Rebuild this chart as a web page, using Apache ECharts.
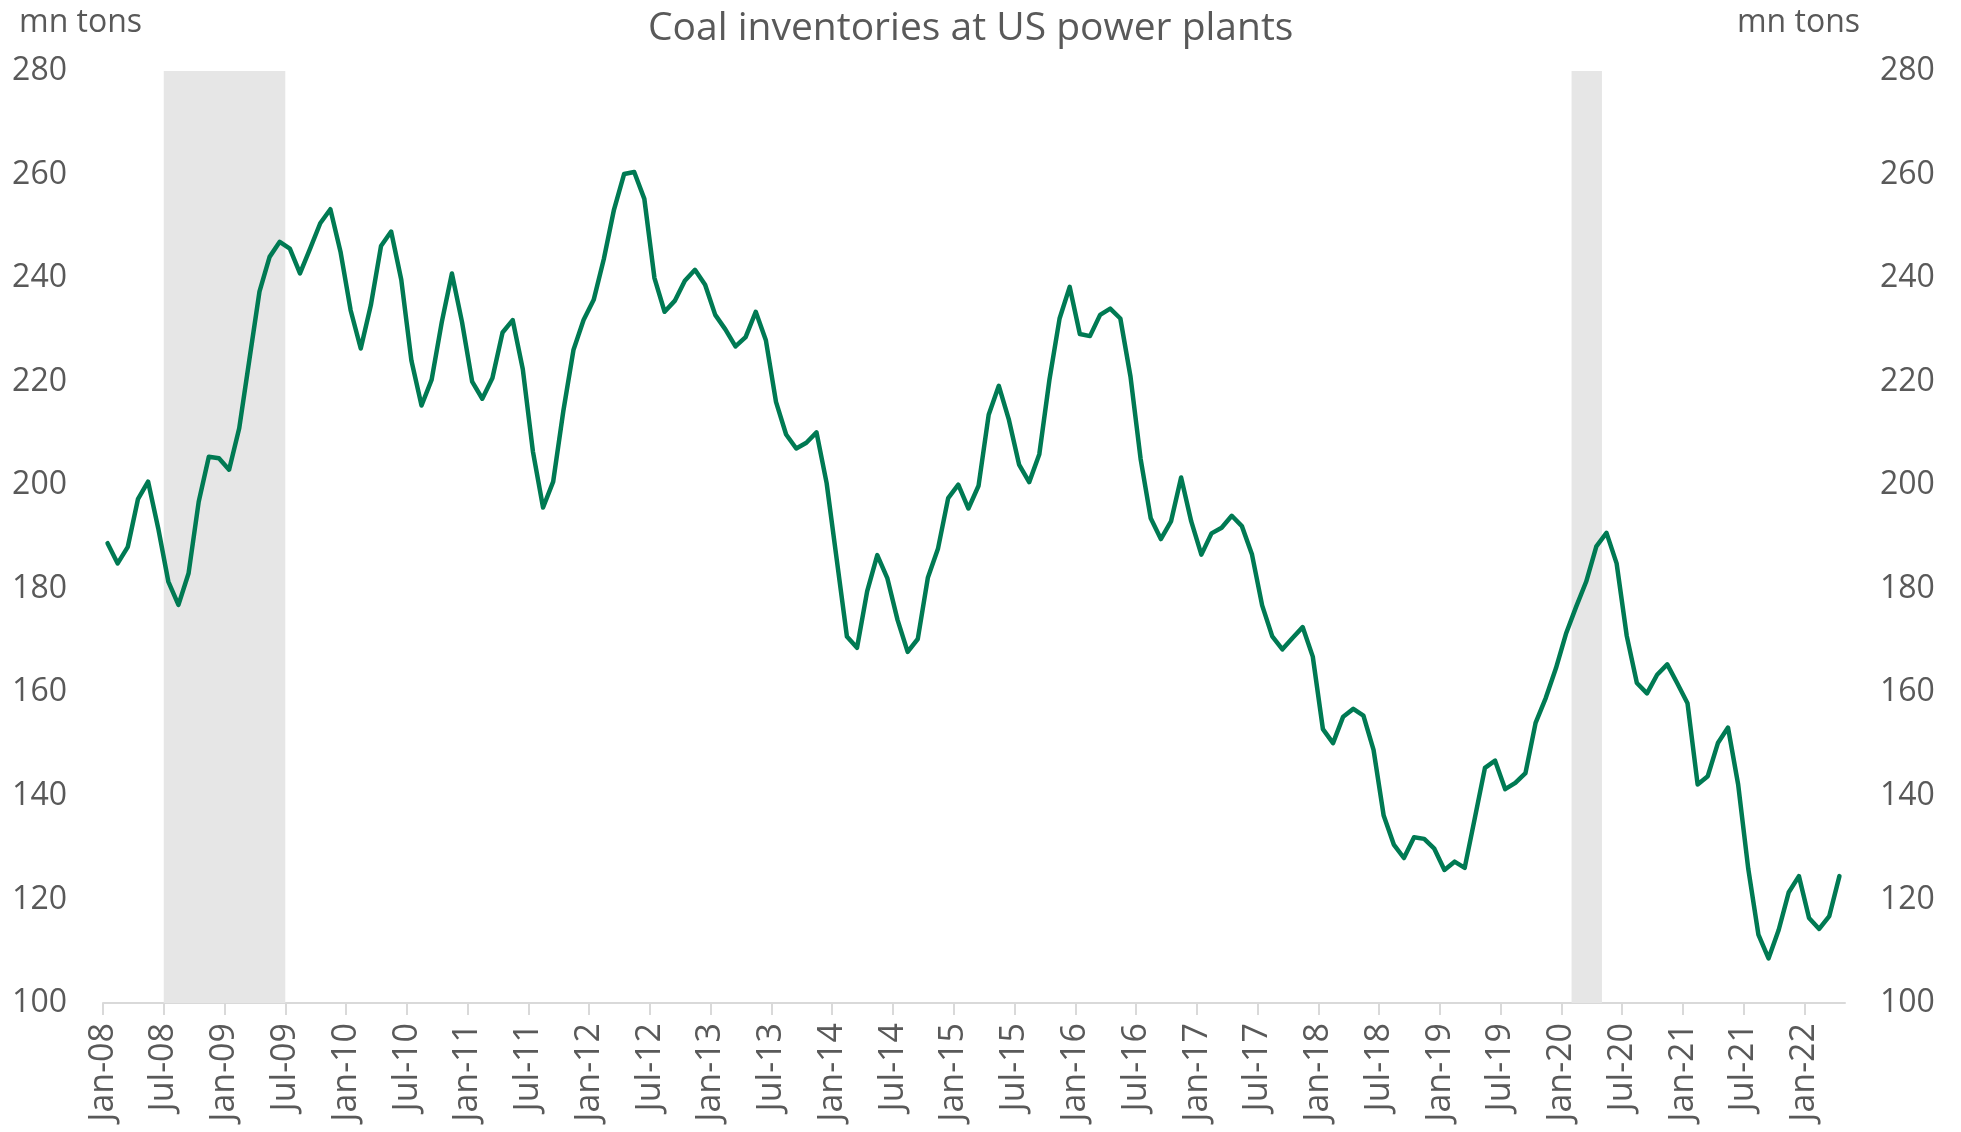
<!DOCTYPE html>
<html>
<head>
<meta charset="utf-8">
<script src="https://cdn.jsdelivr.net/npm/echarts@6/dist/echarts.min.js"></script>
<style>
html,body{margin:0;padding:0;background:#fff;}
#chart{width:1961px;height:1132px;}
</style>
</head>
<body>
<div id="chart"></div>
<script>
// Monthly coal inventories, Jan-08 .. Apr-22 (mn tons)
const firstMonth = 'Jan-08';
const inventories = [
  188.8,184.9,188.1,197.3,200.7,191.7,181.4,176.9,183.0,196.8,205.5,205.2,
  203.0,211.0,224.2,237.4,244.1,247.0,245.7,240.9,245.7,250.6,253.3,245.1,
  233.8,226.4,234.8,246.2,249.0,239.7,224.1,215.4,220.4,231.5,240.9,231.5,
  220.0,216.7,220.7,229.5,231.9,222.4,206.5,195.7,200.7,214.3,226.1,231.9,
  235.8,243.7,253.2,260.1,260.5,255.3,240.0,233.5,235.6,239.5,241.6,238.7,
  232.9,230.1,226.8,228.6,233.5,228.0,216.1,209.8,207.1,208.2,210.2,200.4,
  185.6,170.8,168.6,179.5,186.5,182.0,174.0,167.8,170.3,182.2,187.8,197.5,
  200.1,195.5,199.9,213.6,219.2,212.6,204.0,200.6,206.0,220.4,232.2,238.3,
  229.2,228.8,232.9,234.1,232.2,221.0,205.1,193.6,189.6,193.0,201.5,193.0,
  186.6,190.7,191.8,194.1,192.1,186.6,176.8,170.8,168.3,170.5,172.6,166.9,
  152.9,150.2,155.3,156.8,155.5,148.9,136.2,130.6,128.0,132.0,131.7,129.8,
  125.7,127.3,126.1,135.7,145.4,146.8,141.3,142.5,144.4,154.1,158.9,164.6,
  171.3,176.5,181.4,188.2,190.8,184.9,170.9,161.8,159.8,163.4,165.4,161.7,
  157.9,142.2,143.8,150.2,153.2,142.2,125.9,113.2,108.6,114.1,121.4,124.5,
  116.4,114.3,116.8,124.5
];
const xTickLabels = [
  'Jan-08','Jul-08','Jan-09','Jul-09','Jan-10','Jul-10','Jan-11','Jul-11',
  'Jan-12','Jul-12','Jan-13','Jul-13','Jan-14','Jul-14','Jan-15','Jul-15',
  'Jan-16','Jul-16','Jan-17','Jul-17','Jan-18','Jul-18','Jan-19','Jul-19',
  'Jan-20','Jul-20','Jan-21','Jul-21','Jan-22'
];
const yTicks = [100,120,140,160,180,200,220,240,260,280];
const recessions = [['Jul-08','Jul-09'], ['Feb-20','May-20']];
const titleText = 'Coal inventories at US power plants';
const unitText = 'mn tons';

const MONTHS = ['Jan','Feb','Mar','Apr','May','Jun','Jul','Aug','Sep','Oct','Nov','Dec'];
function monthIndex(lbl) {
  const [m, y] = lbl.split('-');
  const [m0, y0] = firstMonth.split('-');
  return (parseInt(y,10) - parseInt(y0,10)) * 12 + MONTHS.indexOf(m) - MONTHS.indexOf(m0);
}
const tickValues = xTickLabels.map(monthIndex);
const axisEnd = inventories.length;              // axis runs to the start of the month after the last point
const lineData = inventories.map((v, i) => [i + 0.45, v]); // points sit mid-month

const textColor = '#595959';
const fontFamily = '"Open Sans", "Noto Sans", sans-serif';
const fs = 32;

const chart = echarts.init(document.getElementById('chart'), null, {renderer: 'canvas'});
chart.setOption({
  animation: false,
  backgroundColor: '#ffffff',
  textStyle: {fontFamily: fontFamily},
  title: [
    {text: titleText, left: 643, top: 4,
     textStyle: {fontFamily, fontSize: 39, fontWeight: 'normal', color: textColor}},
    {text: unitText, left: 14, top: 2,
     textStyle: {fontFamily, fontSize: fs, fontWeight: 'normal', color: textColor}},
    {text: unitText, right: 96, top: 2,
     textStyle: {fontFamily, fontSize: fs, fontWeight: 'normal', color: textColor}}
  ],
  grid: {left: 103, right: 116, top: 71, bottom: 129, containLabel: false, outerBoundsMode: 'none'},
  xAxis: {
    type: 'value', min: 0, max: axisEnd, interval: 6,
    splitLine: {show: false},
    axisLine: {show: true, lineStyle: {color: '#d9d9d9', width: 2}},
    axisTick: {show: true, length: 12, customValues: tickValues, lineStyle: {color: '#d9d9d9', width: 2}},
    axisLabel: {
      rotate: 90, margin: 20, color: textColor, fontSize: 34, fontFamily,
      customValues: tickValues,
      formatter: v => { const k = tickValues.indexOf(Math.round(v)); return k >= 0 ? xTickLabels[k] : ''; }
    }
  },
  yAxis: [
    {type: 'value', min: yTicks[0], max: yTicks[yTicks.length-1], interval: yTicks[1]-yTicks[0],
     position: 'left', splitLine: {show: false}, axisLine: {show: false}, axisTick: {show: false},
     axisLabel: {color: textColor, fontSize: fs, fontFamily, margin: 36}},
    {type: 'value', min: yTicks[0], max: yTicks[yTicks.length-1], interval: yTicks[1]-yTicks[0],
     position: 'right', splitLine: {show: false}, axisLine: {show: false}, axisTick: {show: false},
     axisLabel: {color: textColor, fontSize: fs, fontFamily, margin: 35}}
  ],
  series: [{
    type: 'line', data: lineData, yAxisIndex: 0,
    showSymbol: false, symbol: 'none', smooth: false,
    lineStyle: {color: '#007a53', width: 4.5, join: 'round', cap: 'round'},
    markArea: {
      silent: true,
      itemStyle: {color: '#e6e6e6'},
      data: recessions.map(r => [{xAxis: monthIndex(r[0])}, {xAxis: monthIndex(r[1])}])
    }
  }]
});
</script>
</body>
</html>
